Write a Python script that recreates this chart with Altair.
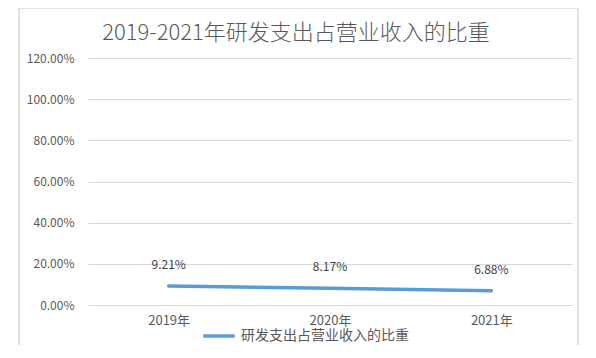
import altair as alt
import pandas as pd

years = ["2019年", "2020年", "2021年"]
ratios = [0.0921, 0.0817, 0.0688]
series_name = "研发支出占营业收入的比重"
title_text = "2019-2021年研发支出占营业收入的比重"

df = pd.DataFrame({"year": years, "ratio": ratios, "series": [series_name] * 3})

FONT = "Noto Sans CJK SC"
GREY = "#595959"

base = alt.Chart(df)

x = alt.X("year:N", sort=years, title=None,
          scale=alt.Scale(paddingInner=0, paddingOuter=0.5),
          axis=alt.Axis(labelAngle=0, labelFont=FONT, labelFontSize=13, labelColor=GREY,
                        ticks=False, domain=False, labelPadding=9, grid=False))
y = alt.Y("ratio:Q", title=None,
          scale=alt.Scale(domain=[0, 1.2], nice=False),
          axis=alt.Axis(format=".2%", values=[0, 0.2, 0.4, 0.6, 0.8, 1.0, 1.2],
                        labelFont=FONT, labelFontSize=12, labelColor=GREY,
                        ticks=False, domain=False, labelPadding=14,
                        grid=True, gridColor="#d9d9d9", gridWidth=1))

line = base.mark_line(strokeWidth=3.5, strokeCap="round").encode(
    x=x, y=y,
    color=alt.Color("series:N", title=None,
                    scale=alt.Scale(range=["#5b9bd5"]),
                    legend=alt.Legend(orient="none", legendX=113, legendY=260,
                                      symbolType="stroke", symbolSize=1000,
                                      symbolStrokeWidth=3.5, labelLimit=400,
                                      labelFont=FONT, labelFontSize=14, labelColor=GREY,
                                      labelOffset=4)),
)

labels = base.mark_text(font=FONT, fontSize=12, color="#404040", dy=-21).encode(
    x=alt.X("year:N", sort=years), y=alt.Y("ratio:Q"),
    text=alt.Text("ratio:Q", format=".2%"),
)

one = pd.DataFrame({"t": [title_text]})

border = alt.Chart(one).mark_rect(
    fill=None, stroke="#d9d9d9", strokeWidth=1.5
).encode(x=alt.value(-69), x2=alt.value(490), y=alt.value(-50), y2=alt.value(294))

title = alt.Chart(one).mark_text(font=FONT, fontSize=22, fontWeight=300, color=GREY,
                                 baseline="middle", align="center").encode(
    x=alt.value(208), y=alt.value(-25), text="t:N")

chart = alt.layer(border, title, line, labels).properties(
    width=484, height=247,
    autosize=alt.AutoSizeParams(type="none"),
    padding={"left": 80, "top": 50, "right": 16, "bottom": 40},
).configure(background="white").configure_view(stroke=None)

chart.save("out.html", embed_options={"renderer": "svg", "actions": False})
